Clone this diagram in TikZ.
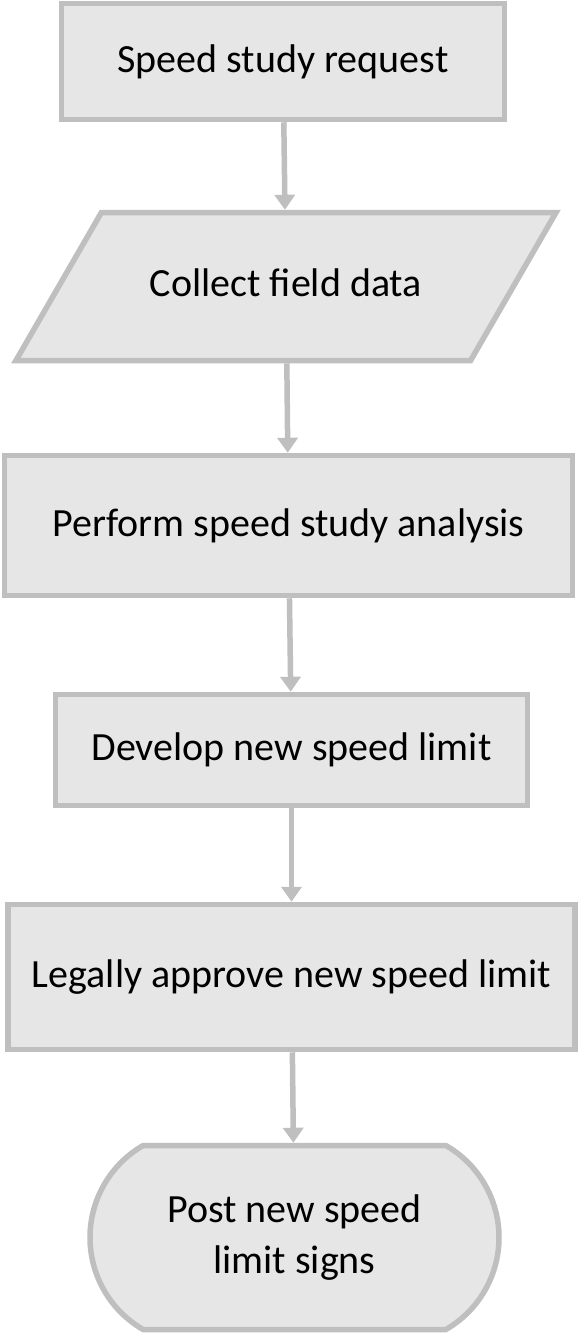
\documentclass[tikz,border=0pt]{standalone}
\usepackage{fontspec}
\setmainfont{Carlito}
\usetikzlibrary{shapes.geometric,shapes.misc,arrows.meta,positioning}
\definecolor{boxfill}{RGB}{230,230,230}
\definecolor{boxline}{RGB}{191,191,191}

\begin{document}
\begin{tikzpicture}[node distance=112pt,on grid,line width=2.75pt,
  box/.style={draw=boxline,fill=boxfill,font=\fontsize{20}{25.5}\selectfont,align=center,inner sep=2pt},
  proc/.style={box,rectangle},
  io/.style={box,trapezium,trapezium left angle=60,trapezium right angle=120,align=flush center,
    text width=180pt,text height=14pt,text depth=4pt,inner xsep=2.3pt,inner ysep=28pt},
  term/.style={box,rounded rectangle,rounded rectangle arc length=120},
  flow/.style={color=boxline,-{Triangle[width=10pt,length=7.5pt]}}]
\useasboundingbox (0,0) rectangle (289.5pt,-667.5pt);
\node[proc,minimum width=221.5pt,minimum height=58pt] (request) at (141.5pt,-30.75pt) {Speed study request};
\node[io] (collect) [below=112.5pt of request,xshift=1.5pt] {Collect field data};
\node[proc,minimum width=284pt,minimum height=70pt] (perform) [below=119.5pt of collect,xshift=1.25pt] {Perform speed study analysis};
\node[proc,minimum width=236pt,minimum height=55.5pt] (develop) [below=112.25pt of perform,xshift=1.5pt] {Develop new speed limit};
\node[proc,minimum width=283.5pt,minimum height=72.5pt] (approve) [below=113.5pt of develop] {Legally approve new speed limit};
\node[term,minimum width=208.5pt,minimum height=92pt] (post) [below=130.25pt of approve,xshift=1.5pt] {Post new speed\\limit signs};
\path[flow]
	(request) edge (collect)
	(collect) edge (perform)
	(perform) edge (develop)
	(develop) edge (approve)
	(approve) edge (post);
\end{tikzpicture}
\end{document}
